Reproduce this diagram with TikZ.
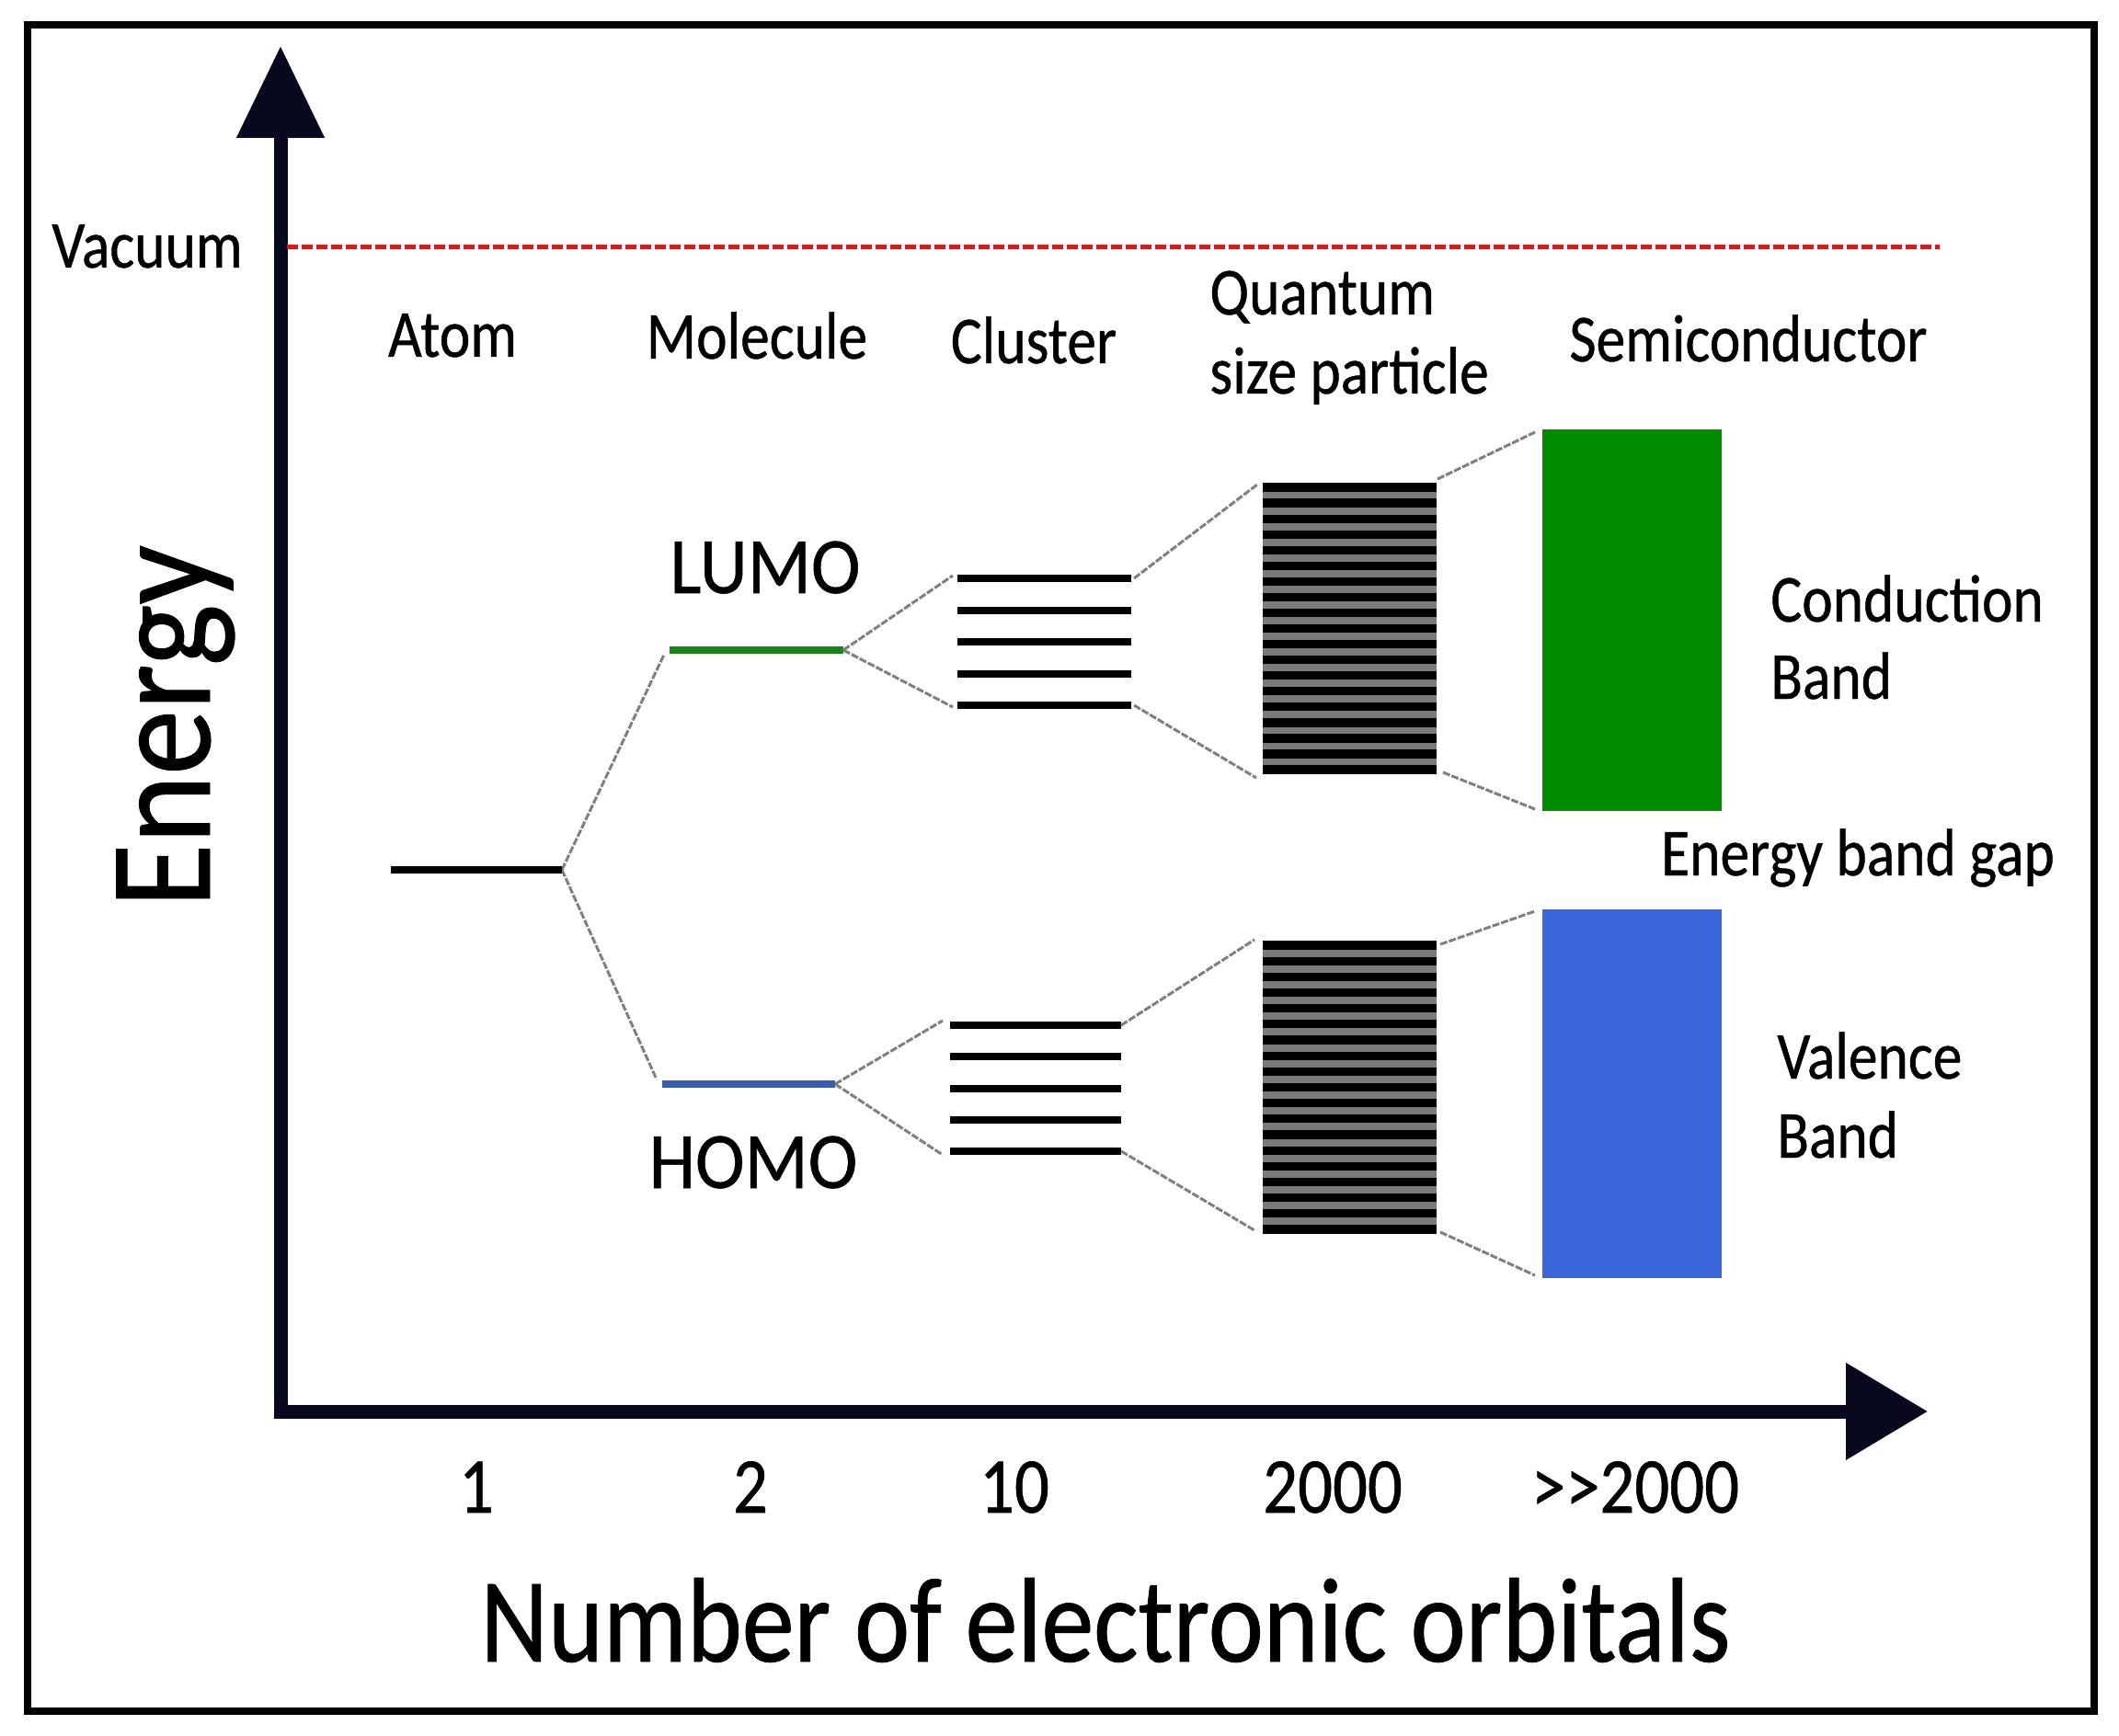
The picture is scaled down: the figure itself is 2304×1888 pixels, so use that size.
\documentclass[tikz,border=0pt]{standalone}
\usepackage{fontspec}
\setmainfont{Carlito}[FakeStretch=0.87,FakeBold=0.6]
\newfontfamily\widefont{Carlito}[FakeStretch=0.93,FakeBold=0.6]
\newfontfamily\energyfont{Carlito}[FakeStretch=0.9,FakeBold=0.6]
\usetikzlibrary{arrows.meta}
\definecolor{axiscol}{RGB}{8,8,30}
\definecolor{vacred}{RGB}{205,30,30}
\definecolor{lumocol}{RGB}{25,130,25}
\definecolor{homocol}{RGB}{55,90,175}
\definecolor{condgreen}{RGB}{0,140,0}
\definecolor{valblue}{RGB}{58,103,220}
\begin{document}
\begin{tikzpicture}[x=0.5pt,y=-0.5pt,
  lab/.style={inner sep=0pt, font=\fontsize{36.5pt}{44pt}\selectfont, anchor=base},
  labw/.style={lab, anchor=base west},
  big/.style={inner sep=0pt, font=\widefont\fontsize{43.5pt}{50pt}\selectfont, anchor=base},
  num/.style={inner sep=0pt, font=\fontsize{43pt}{50pt}\selectfont, anchor=base},
  level/.style={line width=4pt},
  qline/.style={line width=4.6pt},
  conn/.style={draw=black!50, line width=1.5pt, dash pattern=on 4pt off 1pt},
  axisline/.style={line width=7.5pt, draw=axiscol, line join=miter},
  vacline/.style={draw=vacred, line width=2.5pt, dash pattern=on 6pt off 2pt},
]
\useasboundingbox (0,0) rectangle (2304,1888);
\fill[white] (0,0) rectangle (2304,1888);
% frame
\draw[line width=4pt] (30,27) rectangle (2277,1861);

% axes
\coordinate (ytip) at (305,50);
\coordinate (origin) at (305,1535);
\coordinate (xtip) at (2096,1535);
\draw[axisline, {Triangle[length=50pt,width=46pt]}-{Triangle[length=44.5pt,width=51pt]}] (ytip) -- (origin) -- (xtip);

% vacuum level
\coordinate (vacL) at (312,269);
\coordinate (vacR) at (2109,269);
\draw[vacline] (vacL) -- (vacR);

% atom / molecule levels
\coordinate (atomL) at (425,946);
\coordinate (atomR) at (611,946);
\coordinate (lumoL) at (728,707);
\coordinate (lumoR) at (917,707);
\coordinate (homoL) at (720,1179);
\coordinate (homoR) at (908,1179);
\coordinate (lumoIn) at (722,712);
\coordinate (homoIn) at (714,1174);
\draw[conn] (atomR) -- (lumoIn);
\draw[conn] (atomR) -- (homoIn);
\draw[level] (atomL) -- (atomR);
\draw[level, draw=lumocol] (lumoL) -- (lumoR);
\draw[level, draw=homocol] (homoL) -- (homoR);

% clusters
\coordinate (ctInT) at (1036,626);
\coordinate (ctInB) at (1036,769);
\coordinate (ctOutT) at (1233,629);
\coordinate (ctOutB) at (1233,767);
\coordinate (cbInT) at (1025,1110);
\coordinate (cbInB) at (1025,1256);
\coordinate (cbOutT) at (1219,1115);
\coordinate (cbOutB) at (1219,1252);
\draw[conn] (lumoR) -- (ctInT);
\draw[conn] (lumoR) -- (ctInB);
\draw[conn] (homoR) -- (cbInT);
\draw[conn] (homoR) -- (cbInB);
\foreach \i in {0,...,4} {
  \draw[level] (1041,{629+34.5*\i}) -- (1230,{629+34.5*\i});
  \draw[level] (1033,{1115+34.25*\i}) -- (1219,{1115+34.25*\i});
}

% quantum size particle stacks
\coordinate (qtInT) at (1367,527);
\coordinate (qtInB) at (1366,846);
\coordinate (qtOutT) at (1563,521);
\coordinate (qtOutB) at (1569,840);
\coordinate (qbInT) at (1364,1022);
\coordinate (qbInB) at (1364,1338);
\coordinate (qbOutT) at (1566,1027);
\coordinate (qbOutB) at (1566,1340);
\draw[conn] (ctOutT) -- (qtInT);
\draw[conn] (ctOutB) -- (qtInB);
\draw[conn] (cbOutT) -- (qbInT);
\draw[conn] (cbOutB) -- (qbInB);
\fill[black!52] (1373,530) rectangle (1562,837);
\fill[black!52] (1373,1028) rectangle (1562,1337);
\foreach \i in {0,...,18} {
  \draw[qline] (1373,{530+17.06*\i}) -- (1562,{530+17.06*\i});
  \draw[qline] (1373,{1028+17.17*\i}) -- (1562,{1028+17.17*\i});
}

% semiconductor bands
\coordinate (cbandTL) at (1677,467);
\coordinate (cbandBR) at (1872,882);
\coordinate (vbandTL) at (1677,989);
\coordinate (vbandBR) at (1872,1390);
\coordinate (cbandInT) at (1669,470);
\coordinate (cbandInB) at (1669,880);
\coordinate (vbandInT) at (1669,991);
\coordinate (vbandInB) at (1669,1387);
\draw[conn] (qtOutT) -- (cbandInT);
\draw[conn] (qtOutB) -- (cbandInB);
\draw[conn] (qbOutT) -- (vbandInT);
\draw[conn] (qbOutB) -- (vbandInB);
\fill[condgreen] (cbandTL) rectangle (cbandBR);
\fill[valblue] (vbandTL) rectangle (vbandBR);

% labels
\node[lab] (vac) at (160,291) {Vacuum};
\node[lab] (atom) at (492,388) {Atom};
\node[lab] (mol) at (823,390) {Molecule};
\node[lab] (clus) at (1124,395) {Cluster};
\node[labw] (quant1) at (1315,342) {Quantum};
\node[labw] (quant2) at (1315,428) {size particle};
\node[lab] (semi) at (1901,393) {Semiconductor};
\node[big] (lumo) at (832,645) {LUMO};
\node[big] (homo) at (819,1292) {HOMO};
\node[labw] (cond1) at (1925,676) {Conduction};
\node[labw] (cond2) at (1925,760) {Band};
\node[lab] (gap) at (2020,952) {Energy band gap};
\node[labw] (val1) at (1932,1173) {Valence};
\node[labw] (val2) at (1932,1259) {Band};
\node[num] (n1) at (518,1645) {1};
\node[num] (n2) at (816,1645) {2};
\node[num] (n3) at (1103,1645) {10};
\node[num] (n4) at (1449,1645) {2000};
\node[num] (n5) at (1778,1645) {>{}>2000};
\node[inner sep=0pt, anchor=base, font=\fontsize{65.5pt}{75pt}\selectfont] (xlab) at (1202,1807) {Number of electronic orbitals};
\node[inner sep=0pt, anchor=base, rotate=90, font=\energyfont\fontsize{79pt}{85pt}\selectfont] (ylab) at (228,790) {Energy};
\end{tikzpicture}
\end{document}
